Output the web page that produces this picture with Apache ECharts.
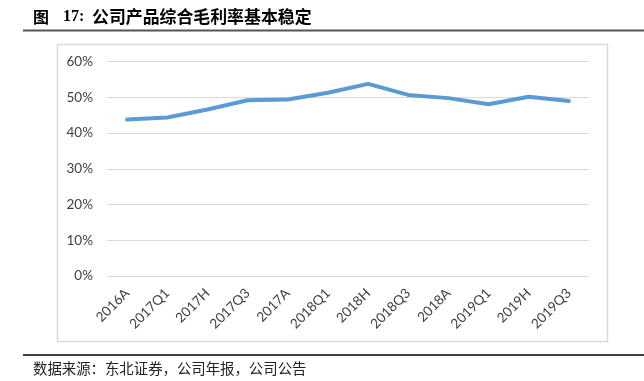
<!DOCTYPE html>
<html>
<head>
<meta charset="utf-8">
<script src="https://cdn.jsdelivr.net/npm/echarts@6/dist/echarts.min.js"></script>
<style>
  html, body { margin: 0; padding: 0; background: #fff; }
  #main { width: 644px; height: 381px; }
</style>
</head>
<body>
<div id="main"></div>
<script>
var categories = ['2016A', '2017Q1', '2017H', '2017Q3', '2017A', '2018Q1',
                  '2018H', '2018Q3', '2018A', '2019Q1', '2019H', '2019Q3'];
// gross margin, %
var grossMargin = [43.8, 44.4, 46.6, 49.2, 49.4, 51.3, 53.8, 50.7, 49.8, 48.1, 50.2, 49.0];
var yTicks = [0, 10, 20, 30, 40, 50, 60];

var chart = echarts.init(document.getElementById('main'), null, { renderer: 'canvas' });

var cjk = '"Noto Sans CJK SC", sans-serif';
var axisFont = 'Lato, "Open Sans", sans-serif';

var option = {
    animation: false,
    backgroundColor: '#fff',
    grid: { left: 107, right: 55, top: 61.7, bottom: 105, containLabel: false },
    xAxis: {
        type: 'category',
        data: categories,
        boundaryGap: true,
        axisLine: { show: false },
        axisTick: { show: false },
        axisLabel: {
            rotate: 45,
            interval: 0,
            margin: 15,
            color: '#404040',
            fontFamily: axisFont,
            fontSize: 13.5
        }
    },
    yAxis: {
        type: 'value',
        min: yTicks[0],
        max: yTicks[yTicks.length - 1],
        interval: 10,
        axisLine: { show: false },
        axisTick: { show: false },
        splitLine: { lineStyle: { color: '#d9d9d9', width: 1 } },
        axisLabel: {
            margin: 14,
            color: '#404040',
            fontFamily: axisFont,
            fontSize: 13.5,
            formatter: function (v) { return v + '%'; }
        }
    },
    series: [{
        name: '综合毛利率',
        type: 'line',
        data: grossMargin,
        symbol: 'none',
        lineStyle: { color: '#5b9bd5', width: 4, cap: 'round', join: 'round' }
    }],
    graphic: [
        // chart frame
        { type: 'rect', z: -1, shape: { x: 57.5, y: 44.5, width: 550, height: 297 },
          style: { fill: 'none', stroke: '#d9d9d9', lineWidth: 1.5 } },
        // title
        { type: 'text', left: 33, top: 9, style: { text: '图', font: 'bold 16px ' + cjk, fill: '#000' } },
        { type: 'text', left: 63, top: 9, style: { text: '17:', font: 'bold 16px "Liberation Serif", serif', fill: '#000' } },
        { type: 'text', left: 92, top: 8.5, style: { text: '公司产品综合毛利率基本稳定', font: 'bold 16.9px ' + cjk, fill: '#000' } },
        { type: 'line', shape: { x1: 23, y1: 30.5, x2: 644, y2: 30.5 }, style: { stroke: '#555', lineWidth: 2 } },
        // source
        { type: 'line', shape: { x1: 23, y1: 355, x2: 644, y2: 355 }, style: { stroke: '#000', lineWidth: 1.5 } },
        { type: 'text', left: 33, top: 361, style: { text: '数据来源：东北证券，公司年报，公司公告', font: '14.4px ' + cjk, fill: '#222' } }
    ]
};

chart.setOption(option);
</script>
</body>
</html>
